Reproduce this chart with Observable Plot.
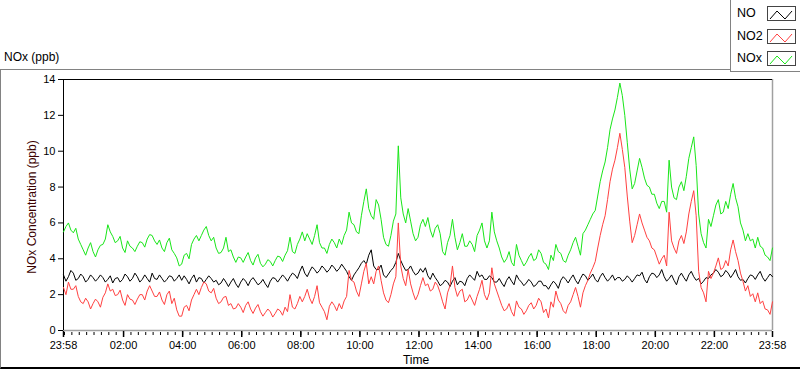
<!DOCTYPE html>
<html><head><meta charset="utf-8">
<script src="https://cdn.jsdelivr.net/npm/d3@7"></script>
<script src="https://cdn.jsdelivr.net/npm/@observablehq/plot@0.6"></script>
<style>
body{margin:0;background:#fff;font-family:"Liberation Sans",Arial,sans-serif;color:#000}
#wrap{position:relative;width:800px;height:369px;overflow:hidden;background:#fff}
#title{position:absolute;left:4px;top:50px;font-size:12px;line-height:14px}
#frame{position:absolute;left:0;top:69px;width:800px;height:300px;box-sizing:border-box;border-top:1px solid #828282;border-left:1px solid #828282;border-bottom:2px solid #000}
#chart{position:absolute;left:0;top:69px}
#ylab{position:absolute;left:32px;top:207px;transform:translate(-50%,-50%) rotate(-90deg);font-size:12px;white-space:nowrap;color:#3a0000}
#xlab{position:absolute;left:416px;top:353px;transform:translateX(-50%);font-size:12px}
#legend{position:absolute;left:730px;top:0;width:70px;height:72px;box-sizing:border-box;border-left:1px solid #828282;border-bottom:1px solid #828282;background:#fff}
.item{position:absolute;left:6px;font-size:12.5px;line-height:14px}
.sw{position:absolute;left:36px;width:29px;height:15px;border:1px solid #444;box-sizing:border-box;background:#fff}
</style></head>
<body>
<div id="wrap">
  <div id="frame"></div>
  <div id="title">NOx (ppb)</div>
  <div id="chart"></div>
  <div id="ylab">NOx Concentration (ppb)</div>
  <div id="xlab">Time</div>
  <div id="legend"></div>
</div>
<script>
// series names and colours
const seriesNames = ["NO", "NO2", "NOx"];
const seriesColors = ["#000000", "#ff4040", "#19e619"];
// one reading every 5 minutes, starting at 23:58
const stepMinutes = 5;
// NO (ppb)
const no = [
3.1,2.75,3.0,3.35,3.2,2.8,2.9,3.15,3.0,2.7,2.85,3.1,2.95,2.75,2.9,3.1,2.95,2.7,2.85,3.05,2.65,2.9,2.95,2.7,
2.85,3.15,3.0,2.75,2.9,3.2,3.0,2.7,2.85,3.1,2.9,2.7,3.2,2.9,2.85,3.1,2.9,2.7,2.85,3.05,3.0,2.75,2.9,3.1,
2.8,3.05,2.85,2.6,2.9,3.1,2.7,2.95,2.9,2.65,2.85,3.05,2.9,2.7,2.8,2.55,2.65,2.9,2.7,2.45,2.7,2.9,2.6,2.4,
2.7,2.9,2.75,2.5,2.8,2.95,2.75,2.55,2.65,2.85,2.6,2.4,2.75,2.95,2.9,2.7,2.9,3.1,2.95,2.75,3.0,3.2,3.1,2.9,
3.3,3.6,3.2,3.0,3.3,3.55,3.4,3.2,3.35,3.6,3.45,3.25,3.4,3.65,3.5,3.3,3.45,3.7,3.5,3.3,3.0,2.8,3.1,3.3,
3.5,3.75,3.9,3.7,4.2,4.5,3.6,3.4,3.4,3.65,3.1,2.95,3.15,3.35,3.5,3.8,4.3,3.9,3.6,3.35,3.4,3.6,3.3,3.1,
3.2,3.45,3.25,3.5,3.05,2.85,3.2,2.95,2.75,2.5,2.6,2.8,2.7,2.45,2.75,2.95,2.55,2.75,2.7,2.5,2.9,3.1,2.95,2.8,
3.3,3.0,3.1,2.85,2.85,3.05,2.95,2.7,2.7,2.9,2.65,2.45,2.8,3.0,2.75,2.55,3.1,2.85,2.7,2.5,2.65,2.85,2.7,2.45,
2.55,2.75,2.75,2.5,2.5,2.3,2.55,2.75,2.6,2.35,2.8,3.0,2.85,2.65,2.9,3.1,2.8,2.6,2.9,3.15,3.05,2.8,2.95,3.15,
2.85,2.7,3.0,3.2,2.95,2.75,2.9,3.1,2.8,2.95,2.95,2.75,2.85,3.05,2.9,2.7,2.9,3.1,3.05,3.25,2.85,2.65,3.0,3.2,
3.15,2.95,3.1,3.4,3.0,2.75,2.9,3.1,2.8,2.55,3.0,3.2,2.95,2.75,3.1,3.3,3.0,2.8,2.9,2.6,2.75,2.95,2.9,3.1,
3.2,3.4,3.25,3.0,3.1,3.35,3.2,2.95,3.15,3.4,3.0,2.8,2.85,2.65,2.9,3.1,3.05,2.85,3.1,3.3,2.95,2.75,2.95,3.15,
3.0];
// NO2 (ppb)
const no2 = [
2.4,2.0,2.7,2.3,2.3,2.5,1.9,1.6,1.5,1.8,1.6,1.2,1.5,1.75,1.6,1.3,1.85,2.1,2.6,2.2,2.3,1.95,2.0,2.25,
1.7,1.4,2.0,1.75,1.7,1.45,1.75,2.0,2.0,1.7,2.2,2.5,2.2,1.9,1.9,2.15,1.7,1.45,2.0,2.2,1.5,1.8,1.15,0.8,
0.8,1.3,1.4,1.1,1.7,2.0,2.3,2.0,2.4,2.7,2.6,2.2,2.1,2.35,1.8,1.5,1.6,1.85,1.9,1.4,1.5,1.2,1.25,1.5,
1.3,1.0,1.4,1.6,1.2,0.95,1.25,1.45,1.05,0.8,1.0,1.2,1.05,0.75,0.95,1.2,1.1,0.85,1.3,1.05,2.0,1.3,1.2,1.5,
1.9,1.6,1.9,2.3,1.8,1.5,1.9,2.5,1.55,1.3,1.05,0.6,1.35,1.6,1.4,1.1,1.5,1.2,1.65,1.9,3.35,2.8,2.7,2.2,
1.9,2.6,3.3,3.75,2.6,3.0,2.6,3.3,3.6,2.8,2.1,1.7,1.55,2.0,2.6,3.0,6.0,3.6,2.9,2.5,3.4,2.6,2.1,1.7,
2.0,2.5,2.95,2.5,2.6,2.2,2.3,2.7,2.5,2.1,1.6,1.2,2.1,2.5,3.6,2.4,1.9,2.2,2.3,1.6,1.7,2.0,1.7,1.4,
1.9,2.3,2.8,2.0,1.7,2.1,3.5,2.6,2.2,1.8,1.4,1.1,1.2,1.5,1.05,0.8,1.65,1.3,1.2,0.9,1.1,1.4,1.55,1.2,
1.4,1.8,1.6,1.0,1.2,0.7,1.6,1.3,2.2,1.7,1.5,1.1,0.95,1.4,1.6,2.0,2.4,1.9,1.3,2.1,2.5,2.8,3.2,3.5,
3.85,4.6,5.3,5.9,6.4,7.3,8.3,9.0,9.5,10.2,11.0,10.1,9.1,7.5,6.1,4.9,5.3,5.9,6.5,6.0,5.6,5.2,5.0,4.6,
4.5,4.1,3.7,4.0,4.2,3.6,6.6,5.0,4.6,4.3,5.0,5.3,4.85,5.5,6.5,7.2,7.8,6.4,3.3,2.4,2.1,1.6,3.3,2.9,
3.2,3.6,4.05,3.4,3.5,3.9,3.6,4.5,5.05,4.4,3.9,3.2,2.75,2.2,2.5,1.9,2.05,1.6,2.1,1.5,1.65,1.2,1.15,0.9,
1.6];
// NOx (ppb)
const nox = [
5.5,5.8,6.0,5.6,5.45,5.7,5.1,4.8,4.5,4.2,4.6,4.9,4.4,4.1,4.5,4.75,4.8,5.1,5.9,5.5,5.25,4.9,5.0,5.25,
4.6,4.35,5.0,4.7,4.6,4.4,4.7,4.95,4.9,4.65,5.1,5.35,5.3,5.0,4.8,5.05,4.6,4.4,4.9,5.15,4.5,4.3,4.05,3.6,
3.7,4.2,4.3,4.0,4.8,5.1,5.3,5.0,5.3,5.6,5.8,5.3,5.0,5.2,4.6,4.3,4.35,4.6,5.2,4.4,4.5,4.1,3.8,4.1,
4.05,3.8,4.1,4.35,3.9,3.65,4.05,4.25,3.75,3.55,3.7,3.95,3.85,3.6,3.9,4.15,4.1,3.85,4.2,4.45,5.2,4.4,4.3,4.8,
5.1,5.5,5.0,5.4,5.1,4.8,5.3,5.9,4.9,4.6,4.6,4.3,4.8,5.1,4.9,4.6,5.1,4.8,5.3,5.6,6.6,6.0,5.9,5.5,
5.4,6.4,7.2,7.9,6.8,6.4,6.2,7.3,7.0,6.2,5.2,4.8,4.7,5.3,6.1,6.5,10.3,7.4,6.5,6.0,6.8,6.1,5.4,5.0,
5.2,5.9,6.2,5.8,6.3,5.6,5.2,5.7,5.9,5.4,4.4,4.2,4.9,5.3,6.2,5.2,4.5,4.9,5.4,4.7,4.7,5.0,4.8,4.4,
5.3,5.6,6.0,5.0,4.6,5.0,6.6,5.5,5.0,4.6,4.1,3.8,4.0,4.4,3.8,3.6,4.8,4.2,3.9,3.6,3.8,4.1,4.3,3.9,
4.0,4.5,4.3,3.8,3.7,3.4,4.2,3.9,4.8,4.4,4.3,3.9,3.8,4.2,4.5,4.9,5.2,4.7,4.2,5.4,5.6,5.9,6.2,6.5,
6.7,7.5,8.3,8.9,9.4,10.2,11.2,11.8,12.3,13.0,13.8,13.1,12.0,10.5,9.0,7.9,8.2,8.9,9.6,9.1,8.5,8.1,8.0,7.6,
7.6,7.1,6.8,7.2,7.2,6.6,9.5,8.0,7.4,7.3,8.0,8.3,7.8,8.6,9.6,10.2,10.8,9.2,6.5,5.4,4.9,4.6,6.2,5.8,
6.4,7.0,7.3,6.5,6.6,7.2,6.8,7.6,8.2,7.4,6.9,6.0,5.6,5.0,5.4,5.0,5.1,4.6,5.2,4.7,4.6,4.2,4.1,3.9,
4.6];
// axis ticks
const yTicks = [0,2,4,6,8,10,12,14];
const xTickLabels = ["23:58","02:00","04:00","06:00","08:00","10:00","12:00","14:00","16:00","18:00","20:00","22:00","23:58"];
const startClock = "23:58";
const minorStepMinutes = 15;

const toMin = s => { const [h,m] = s.split(":").map(Number); return h*60+m; };
const start = toMin(startClock);
const span = 1440;
const offsetOf = (s, i) => i === xTickLabels.length-1 ? span : ((toMin(s) - start + 1440) % 1440);
const majorTicks = xTickLabels.map(offsetOf);
const labelAt = new Map(majorTicks.map((t,i)=>[t, xTickLabels[i]]));
const minorTicks = d3.range((1440 - start) % minorStepMinutes, span, minorStepMinutes);

const rows = [];
[no, no2, nox].forEach((arr, s) => arr.forEach((v, i) => rows.push({t: i*stepMinutes, v, s: seriesNames[s]})));

const plot = Plot.plot({
  width: 800, height: 300,
  marginLeft: 63, marginRight: 28, marginTop: 10, marginBottom: 39,
  x: {domain: [0, span]},
  y: {domain: [0, 14]},
  color: {domain: seriesNames, range: seriesColors},
  style: {fontFamily: "Liberation Sans, Arial, sans-serif", fontSize: "11px", color: "#000", background: "transparent", overflow: "visible"},
  marks: [
    Plot.ruleY([0], {stroke: "#a0a0a0", strokeWidth: 1.5}),
    Plot.ruleX([span], {stroke: "#a0a0a0", strokeWidth: 1.5}),
    Plot.ruleY([14], {stroke: "#000", strokeWidth: 1}),
    Plot.ruleX([0], {stroke: "#000", strokeWidth: 1}),
    Plot.lineY(rows, {x: "t", y: "v", z: "s", stroke: "s", strokeWidth: 1}),
    Plot.axisY({ticks: yTicks, tickSize: 5, tickPadding: 3, label: null, strokeWidth: 1}),
    Plot.axisX({ticks: minorTicks, tickSize: 3, tickFormat: () => "", label: null, dy: 2}),
    Plot.axisX({ticks: majorTicks, tickSize: 6, tickPadding: 4, tickFormat: d => labelAt.get(d), label: null, dy: 1, strokeWidth: 1.5})
  ]
});
document.getElementById("chart").appendChild(plot);

// legend
const lg = document.getElementById("legend");
seriesNames.forEach((n, i) => {
  const top = 5 + i*22.5;
  const t = document.createElement("div"); t.className = "item"; t.style.top = (top+1) + "px"; t.textContent = n; lg.appendChild(t);
  const sw = document.createElement("div"); sw.className = "sw"; sw.style.top = (top+1) + "px";
  sw.innerHTML = `<svg width="27" height="13"><polyline points="2,11 9,3 17,11 24,3" fill="none" stroke="${seriesColors[i]}" stroke-width="1"/></svg>`;
  lg.appendChild(sw);
});
</script>
</body></html>
